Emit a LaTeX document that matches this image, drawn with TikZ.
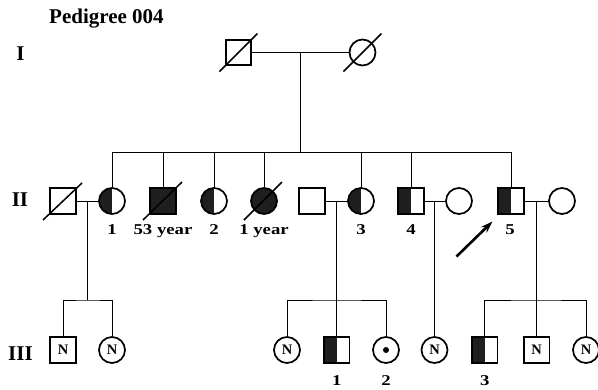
\documentclass[tikz,border=0pt]{standalone}
\usepackage{fontspec}
\setmainfont{Liberation Serif}
\newfontfamily\lblfont[FakeStretch=1.25]{Liberation Serif Bold}
\usetikzlibrary{arrows.meta,calc}
\tikzset{
  ind/.style={draw, line width=1.7pt, inner sep=0pt, font=\bfseries\fontsize{14.5}{14.5}\selectfont},
  male/.style={ind, rectangle, minimum size=25.5pt},
  female/.style={ind, circle, minimum size=26pt},
  half/.style={path picture={\fill[black!88] (path picture bounding box.south west) rectangle (path picture bounding box.north);}},
  full/.style={fill=black!88},
  conn/.style={line width=0.9pt},
  slash/.style={line width=1.5pt},
  lbl/.style={font=\lblfont\fontsize{15}{15}\selectfont, anchor=base, inner sep=0pt},
  gen/.style={font=\bfseries\fontsize{21}{21}\selectfont, anchor=base, inner sep=0pt}
}
\begin{document}
\begin{tikzpicture}[x=1pt,y=-1pt]
\useasboundingbox (0,0) rectangle (598,389);
% title and generation numerals
\node[font=\bfseries\fontsize{21}{21}\selectfont, anchor=base west, inner sep=0pt] (title) at (49,23.3) {Pedigree 004};
\node[gen] (gI) at (20.5,60) {I};
\node[gen] (gII) at (20,206) {II};
\node[gen] (gIII) at (20.5,360) {III};
% generation I
\node[male] (I1) at (238.5,52.5) {};
\node[female] (I2) at (362.5,52.5) {};
\draw[conn] (I1) -- (I2);
\coordinate (m0) at (300.5,52.5);
\coordinate (s0) at (300.5,152);
\draw[conn] (m0) -- (s0);
\draw[slash] ($(I1)+(-19,19)$) -- ($(I1)+(19,-19)$);
\draw[slash] ($(I2)+(-19,19)$) -- ($(I2)+(19,-19)$);
% generation II
\node[male] (h1) at (63,201) {};
\node[female, half] (a1) at (112,201) {};
\node[male, full] (a2) at (163,201) {};
\node[female, half] (a3) at (214,201) {};
\node[female, full] (a4) at (264,201) {};
\node[male] (h5) at (312,201) {};
\node[female, half] (a5) at (361,201) {};
\node[male, half] (a6) at (411,201) {};
\node[female] (w6) at (459,201) {};
\node[male, half] (a7) at (511,201) {};
\node[female] (w7) at (562,201) {};
\draw[conn] (a1.north |- s0) -- (a7.north |- s0);
\foreach \n in {a1,a2,a3,a4,a5,a6,a7} \draw[conn] (\n.north) -- (\n.north |- s0);
\draw[slash] ($(h1)+(-20,19)$) -- ($(h1)+(19,-18)$);
\draw[slash] ($(a2)+(-20,19)$) -- ($(a2)+(19,-19)$);
\draw[slash] ($(a4)+(-20,19)$) -- ($(a4)+(18,-19)$);
\draw[conn] (h1) -- (a1);
\draw[conn] (h5) -- (a5);
\draw[conn] (a6) -- (w6);
\draw[conn] (a7) -- (w7);
\node[lbl] (l1) at (112,234) {1};
\node[lbl] (l2) at (163,234) {53 year};
\node[lbl] (l3) at (214,234) {2};
\node[lbl] (l4) at (264,234) {1 year};
\node[lbl] (l5) at (361,234) {3};
\node[lbl] (l6) at (411,234) {4};
\node[lbl] (l7) at (510,234) {5};
% proband arrow
\coordinate (arS) at (456.5,256.5);
\coordinate (arT) at (492.5,221.5);
\draw[line width=2.6pt, -{Stealth[length=12pt,width=8pt]}] (arS) -- (arT);
% generation III
\coordinate (m1) at (87.3,201);
\coordinate (t1) at (87.3,300);
\coordinate (m2) at (336.7,201);
\coordinate (t2) at (336.7,300);
\coordinate (m3) at (434.5,201);
\coordinate (m4) at (536.7,201);
\coordinate (t4) at (536.7,300);
\node[male] (c1) at (63,350) {N};
\node[female] (c2) at (112,350) {N};
\node[female] (c3) at (287,350) {N};
\node[male, half] (c4) at (336.7,350) {};
\node[female] (c5) at (386,350) {};
\node[female] (c6) at (434.5,350) {N};
\node[male, half] (c7) at (484.7,350) {};
\node[male] (c8) at (536.7,350) {N};
\node[female] (c9) at (586,350) {N};
\fill (c5) circle (3pt);
\draw[conn] (m1) -- (t1);
\draw[conn] (c1.north) |- (t1) -| (c2.north);
\draw[conn] (m2) -- (c4.north);
\draw[conn] (c3.north) |- (t2) -| (c5.north);
\draw[conn] (m3) -- (c6.north);
\draw[conn] (m4) -- (c8.north);
\draw[conn] (c7.north) |- (t4) -| (c9.north);
\node[lbl] (n1) at (336.7,385) {1};
\node[lbl] (n2) at (386,385) {2};
\node[lbl] (n3) at (484.7,385) {3};
\end{tikzpicture}
\end{document}
